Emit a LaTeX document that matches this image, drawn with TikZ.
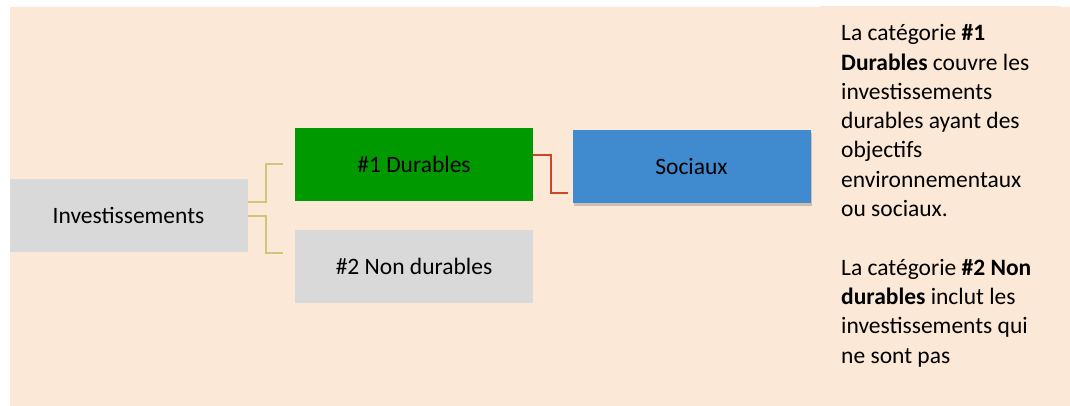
\documentclass[tikz,border=0pt]{standalone}
\usepackage{fontspec}
\setmainfont{Carlito}
\usetikzlibrary{shadows}
\definecolor{bgpeach}{RGB}{251,232,215}
\definecolor{boxgray}{RGB}{217,217,217}
\definecolor{boxgreen}{RGB}{0,153,0}
\definecolor{boxblue}{RGB}{64,139,208}
\definecolor{linegold}{RGB}{212,196,122}
\definecolor{linered}{RGB}{200,72,40}
\begin{document}
\begin{tikzpicture}[x=1pt,y=-1pt,
  box/.style={rectangle, inner sep=0pt, minimum width=238pt, minimum height=73pt,
    font=\fontsize{23.5}{28}\selectfont, text=black},
  goldline/.style={draw=linegold, line width=2pt},
  redline/.style={draw=linered, line width=2pt},
  para/.style={align=left, inner sep=0pt, anchor=base west, text=black,
    font=\fontsize{23.5}{29.3}\selectfont}]
\useasboundingbox (0,0) rectangle (1070,406);
\fill[bgpeach] (10,7) rectangle (1070,406);
\fill[bgpeach] (820,6) rectangle (1061,7);

\node[box, fill=boxgray] (inv) at (128.5,215.5) {Investissements};
\node[box, fill=boxgreen] (d1) at (414,164.5) {\#1 Durables};
\node[box, fill=boxgray] (d2) at (414,266.5) {\#2 Non durables};
\node[box, fill=boxblue, drop shadow={shadow xshift=1pt, shadow yshift=-3pt, fill=black, opacity=0.18}] (soc) at (691.5,166.5) {Sociaux};

\coordinate (c1) at (283,164);
\coordinate (c2) at (283,253);
\coordinate (c3) at (568,193);

\draw[goldline] ([yshift=13.5pt]inv.east) -- ++(18,0) |- (c1);
\draw[goldline] ([yshift=-0.5pt]inv.east) -- ++(18,0) |- (c2);
\draw[redline] ([yshift=9.5pt]d1.east) -- ++(18,0) |- (c3);

\node[para] (txt) at (841,363) {La catégorie \textbf{\#1}\\
\textbf{Durables} couvre les\\
investissements\\
durables ayant des\\
objectifs\\
environnementaux\\
ou sociaux.\\[29.3pt]
La catégorie \textbf{\#2 Non}\\
\textbf{durables} inclut les\\
investissements qui\\
ne sont pas};
\end{tikzpicture}
\end{document}
